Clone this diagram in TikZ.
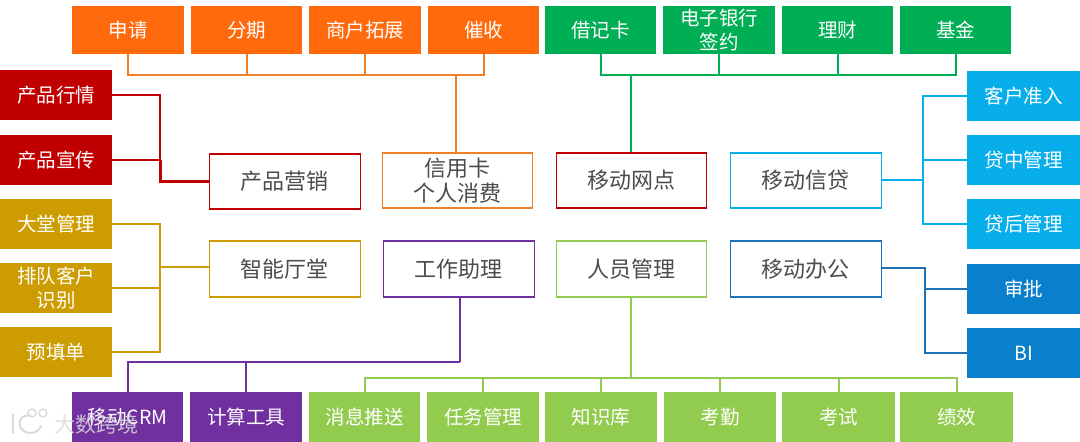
\documentclass[tikz,border=0pt]{standalone}
\usepackage{fontspec}
\setmainfont{Noto Sans CJK SC}
\definecolor{corange}{HTML}{FF6A0D}
\definecolor{lorange}{HTML}{EE8028}
\definecolor{cgreen}{HTML}{00AE55}
\definecolor{cred}{HTML}{C00000}
\definecolor{cgold}{HTML}{CC9C00}
\definecolor{ccyan}{HTML}{08AEEA}
\definecolor{cblue}{HTML}{0A80CC}
\definecolor{lblue}{HTML}{1F6FB5}
\definecolor{cpurple}{HTML}{7030A0}
\definecolor{clime}{HTML}{92CC4E}
\definecolor{cmark}{HTML}{DADADA}
\tikzset{
  x=1pt,y=-1pt,
  leaf/.style={fill=#1,text=white,inner sep=0pt,anchor=north west,align=center,
    font=\fontsize{19.5}{24}\selectfont},
  hub/.style={draw=#1,line width=1.5pt,fill=white,text=black!70,inner sep=0pt,align=center,anchor=north west,
    font=\fontsize{22}{25}\selectfont},
  link/.style={draw=#1,line width=2.2pt},
  mark text/.style={text=cmark,opacity=.85,font=\fontsize{21}{24}\selectfont,inner sep=0pt,anchor=west},
  mark line/.style={draw=cmark,line width=2pt,line cap=round,fill=none},
}
\begin{document}
\begin{tikzpicture}
\useasboundingbox (0,0) rectangle (1080,442);
% top
\foreach \n/\x/\w/\t in {o1/72/112/申请,o2/191/111/分期,o3/309/112/商户拓展,o4/428/111/催收}{
  \node[leaf=corange,minimum width=\w pt,minimum height=48pt] (\n) at (\x,6) {\t};}
\foreach \n/\x/\w/\t in {g1/545/111/借记卡,g2/663/112/{电子银行\\签约},g3/782/111/理财,g4/900/111/基金}{
  \node[leaf=cgreen,minimum width=\w pt,minimum height=48pt] (\n) at (\x,6) {\t};}
% left
\foreach \n/\y/\t in {r1/70/产品行情,r2/135/产品宣传}{
  \node[leaf=cred,minimum width=112pt,minimum height=50pt] (\n) at (0,\y) {\t};}
\foreach \n/\y/\t in {y1/199/大堂管理,y2/263/{排队客户\\识别},y3/327/预填单}{
  \node[leaf=cgold,minimum width=112pt,minimum height=50pt] (\n) at (0,\y) {\t};}
% right
\foreach \n/\y/\t in {c1/71/客户准入,c2/135/贷中管理,c3/199/贷后管理}{
  \node[leaf=ccyan,minimum width=113pt,minimum height=50pt] (\n) at (967,\y) {\t};}
\foreach \n/\y/\t in {b1/264/审批,b2/328/BI}{
  \node[leaf=cblue,minimum width=113pt,minimum height=50pt] (\n) at (967,\y) {\t};}
% bottom
\foreach \n/\x/\w/\t in {p1/72/111/移动CRM,p2/190/112/计算工具}{
  \node[leaf=cpurple,minimum width=\w pt,minimum height=50pt] (\n) at (\x,392) {\t};}
\foreach \n/\x/\w/\t in {l1/309/111/消息推送,l2/427/112/任务管理,l3/545/112/知识库,l4/664/112/考勤,l5/782/113/考试,l6/900/113/绩效}{
  \node[leaf=clime,minimum width=\w pt,minimum height=50pt] (\n) at (\x,392) {\t};}
% hubs
\node[hub=cred,minimum width=151pt,minimum height=55pt] (h1) at (208.5,153) {产品营销};
\node[hub=lorange,minimum width=150pt,minimum height=55pt] (h2) at (381.5,152) {信用卡\\个人消费};
\node[hub=cred,minimum width=150pt,minimum height=55pt] (h3) at (555.5,152) {移动网点};
\node[hub=ccyan,minimum width=151pt,minimum height=55pt] (h4) at (729.5,152) {移动信贷};
\node[hub=cgold,minimum width=151pt,minimum height=56pt] (h5) at (208.5,240) {智能厅堂};
\node[hub=cpurple,minimum width=151pt,minimum height=56pt] (h6) at (382.5,240) {工作助理};
\node[hub=clime,minimum width=150pt,minimum height=56pt] (h7) at (555.5,240) {人员管理};
\node[hub=lblue,minimum width=151pt,minimum height=56pt] (h8) at (729.5,240) {移动办公};
% junctions
\coordinate (jo) at (456,75);
\coordinate (jg) at (631,75);
\coordinate (jr) at (160,181);
\coordinate (jy) at (160,267);
\coordinate (jc) at (923,180);
\coordinate (jb) at (925,268);
\coordinate (jp) at (460,362);
\coordinate (jl) at (631,378);
% orange
\draw[link=lorange] (o1.south) |- (jo) (o4.south) |- (jo);
\draw[link=lorange] (o2.south) -- (o2.south |- jo) (o3.south) -- (o3.south |- jo);
\draw[link=lorange] (jo) -- (jo |- h2.north);
% green
\draw[link=cgreen] (g1.south) |- (jg) (g4.south) |- (jg);
\draw[link=cgreen] (g2.south) -- (g2.south |- jg) (g3.south) -- (g3.south |- jg);
\draw[link=cgreen] (jg) -- (jg |- h3.north);
% red
\draw[link=cred] (r1.east) -| (jr) (r2.east) -- (r2.east -| jr);
\draw[link=cred,line width=3pt] (r2.east -| jr) -- (jr) -- (h1.west |- jr);
% gold
\draw[link=cgold] (y1.east) -| (jy) (y3.east) -| (jy) (y2.east) -- (y2.east -| jy);
\draw[link=cgold] (jy) -- (jy -| h5.west);
% cyan
\draw[link=ccyan] (c1.west) -| (jc) (c3.west) -| (jc) (c2.west) -- (c2.west -| jc);
\draw[link=ccyan] (jc) -- (jc -| h4.east);
% blue
\draw[link=lblue] (h8.east |- jb) -- (jb) |- (b2.west) (b1.west) -- (b1.west -| jb);
% purple
\draw[link=cpurple] (p1.north) |- (jp) (p2.north) -- (p2.north |- jp);
\draw[link=cpurple] (jp) -- (jp |- h6.south);
% lime
\draw[link=clime] (l1.north) |- (jl) (l6.north) |- (jl);
\draw[link=clime] (l2.north) -- (l2.north |- jl) (l3.north) -- (l3.north |- jl) (l4.north) -- (l4.north |- jl) (l5.north) -- (l5.north |- jl);
\draw[link=clime] (jl) -- (jl |- h7.south);
% watermark
\draw[mark line] (13,414) -- (13,433);
\draw[mark line] (31,416) .. controls (17,412) and (15,432) .. (30,433) .. controls (36,433) and (39,430) .. (41,426);
\draw[mark line,line width=1.4pt] (32,413) circle (4);
\draw[mark line,line width=1.4pt] (43,413) circle (4);
\node[mark text] (wm) at (54,424) {大数跨境};
\end{tikzpicture}
\end{document}
